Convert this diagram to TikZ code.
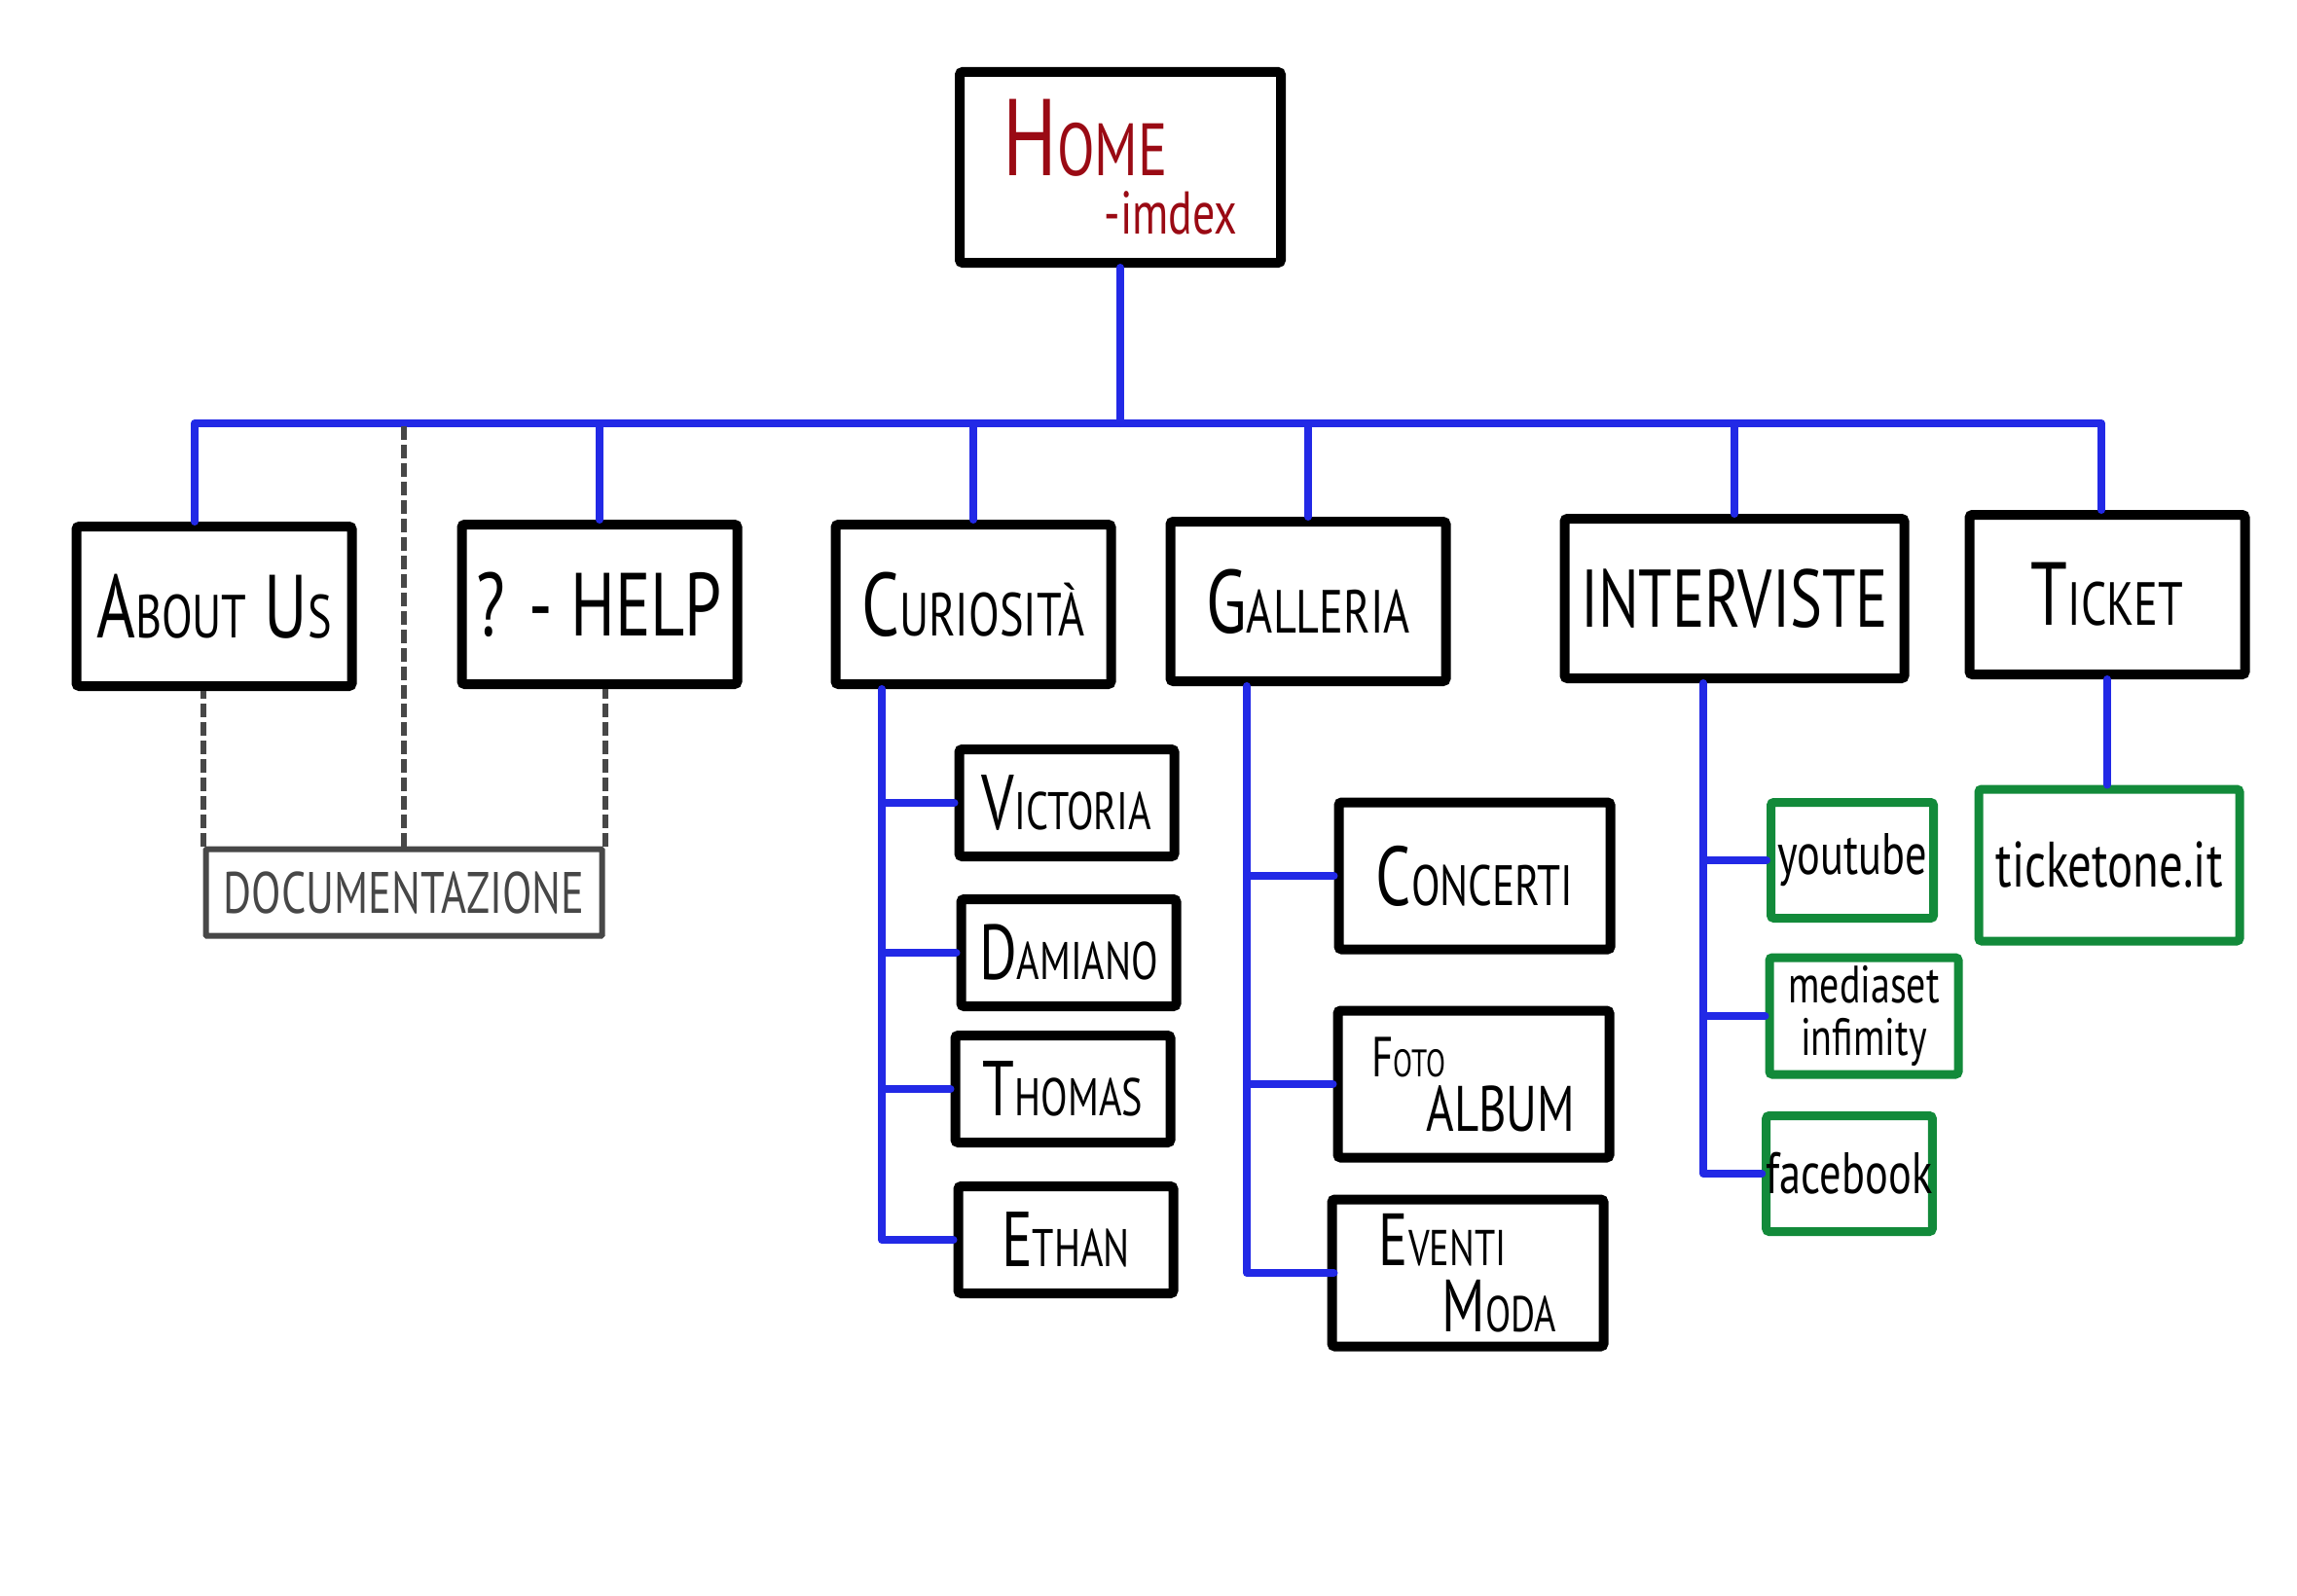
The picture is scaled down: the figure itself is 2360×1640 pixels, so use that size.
\documentclass[tikz,border=0pt]{standalone}
\usepackage{fontspec}
\usepackage{tikz}
\newfontfamily\handfont{PT Sans}[FakeStretch=0.74]
\definecolor{homered}{HTML}{9A0A14}
\definecolor{linkblue}{HTML}{2229E6}
\definecolor{sitegreen}{HTML}{128A3A}
\definecolor{docgray}{HTML}{474747}
\newcommand{\smcap}[2]{#1\scalebox{0.68}{#2}}
\tikzset{
  pagebox/.style={
    draw=black,
    line width=10pt,
    rounded corners=3pt,
    fill=white,
    align=center,
    inner sep=0pt
  },
  homebox/.style={
    pagebox,
    minimum width=330pt,
    minimum height=196pt,
    align=left,
    text=homered,
    font=\handfont\fontsize{112}{100}\selectfont
  },
  sectionbox/.style={
    pagebox,
    minimum width=283pt,
    minimum height=164pt,
    font=\handfont\fontsize{92}{96}\selectfont
  },
  memberbox/.style={
    pagebox,
    minimum width=221pt,
    minimum height=110pt,
    font=\handfont\fontsize{80}{84}\selectfont
  },
  gallerybox/.style={
    pagebox,
    minimum width=279pt,
    minimum height=151pt,
    align=left,
    font=\handfont\fontsize{76}{68}\selectfont
  },
  socialbox/.style={
    pagebox,
    draw=sitegreen,
    line width=9pt,
    minimum width=167pt,
    minimum height=119pt,
    font=\handfont\fontsize{60}{58}\selectfont
  },
  docbox/.style={
    pagebox,
    draw=docgray,
    line width=6pt,
    rounded corners=1pt,
    minimum width=407pt,
    minimum height=89pt,
    text=docgray,
    font=\handfont\fontsize{60}{60}\selectfont
  },
  link/.style={draw=linkblue, line width=8pt, line cap=round, line join=round},
  docline/.style={draw=docgray, line width=6pt, dash pattern=on 14pt off 5pt}
}

\begin{document}
\begin{tikzpicture}[x=1pt, y=-1pt]
  \fill[white] (0,0) rectangle (2360,1640);
  \useasboundingbox (0,0) rectangle (2360,1640);

  % home page
  \node[homebox] (home) at (1151,172) {\smcap{H}{OME}\\[-40pt]\hspace*{104pt}{\fontsize{62}{60}\selectfont -imdex}};

  % sections
  \node[sectionbox] (about) at (220,623) {\smcap{A}{BOUT} \smcap{U}{S}};
  \node[sectionbox] (help) at (616,621) {? - HELP};
  \node[sectionbox] (curio) at (1000,621) {\smcap{C}{URIOSITÀ}};
  \node[sectionbox] (gall) at (1344,618) {\smcap{G}{ALLERIA}};
  \node[sectionbox, minimum width=349pt, font=\handfont\fontsize{84}{84}\selectfont] (interv) at (1782,615) {INTERVISTE};
  \node[sectionbox] (ticket) at (2165,611) {\smcap{T}{ICKET}};

  \node[docbox] (doc) at (415,917) {DOCUMENTAZIONE};

  % curiosita
  \node[memberbox] (victoria) at (1096,825) {\smcap{V}{ICTORIA}};
  \node[memberbox] (damiano) at (1098,979) {\smcap{D}{AMIANO}};
  \node[memberbox] (thomas) at (1092,1119) {\smcap{T}{HOMAS}};
  \node[memberbox] (ethan) at (1095,1274) {\smcap{E}{THAN}};

  % galleria
  \node[gallerybox, align=center, font=\handfont\fontsize{86}{86}\selectfont] (concerti) at (1515,900) {\smcap{C}{ONCERTI}};
  \node[gallerybox, font=\handfont\fontsize{58}{56}\selectfont] (foto) at (1514,1114) {\smcap{F}{OTO}\\\hspace*{56pt}{\fontsize{66}{56}\selectfont ALBUM}};
  \node[gallerybox] (eventi) at (1508,1308) {\smcap{E}{VENTI}\\\hspace*{65pt}\smcap{M}{ODA}};

  % interviste
  \node[socialbox] (youtube) at (1903,884) {youtube};
  \node[socialbox, minimum width=194pt, minimum height=120pt, font=\handfont\fontsize{54}{54}\selectfont] (mediaset) at (1915,1044) {mediaset\\infimity};
  \node[socialbox] (facebook) at (1900,1206) {facebook};

  % ticket
  \node[socialbox, minimum width=268pt, minimum height=156pt, font=\handfont\fontsize{66}{66}\selectfont] (ticketone) at (2167,889) {ticketone.it};

  % links
  \coordinate (bus) at (1151,435);
  \draw[link] (home.south) -- (home.south |- bus);
  \draw[link] ([xshift=-20pt]about.north) |- (bus) -| ([xshift=-6pt]ticket.north);
  \foreach \n in {help,curio,gall,interv}
    \draw[link] (\n.north) -- (\n.north |- bus);

  \draw[docline] (doc.north west) -- (doc.north west |- about.south);
  \draw[docline] (doc.north) -- (doc.north |- bus);
  \draw[docline] (doc.north east) -- (doc.north east |- help.south);

  \coordinate (curiotrunk) at ([xshift=-94pt]curio.south);
  \draw[link] (curiotrunk) |- (ethan.west);
  \foreach \k in {victoria,damiano,thomas}
    \draw[link] (curiotrunk |- \k.west) -- (\k.west);

  \coordinate (galltrunk) at ([xshift=-63pt]gall.south);
  \draw[link] (galltrunk) |- ([xshift=7pt]eventi.west);
  \foreach \k in {concerti,foto}
    \draw[link] (galltrunk |- \k.west) -- (\k.west);

  \coordinate (intervtrunk) at ([xshift=-32pt]interv.south);
  \draw[link] (intervtrunk) |- (facebook.west);
  \foreach \k in {youtube,mediaset}
    \draw[link] (intervtrunk |- \k.west) -- (\k.west);

  \draw[link] (ticket.south) -- (ticket.south |- ticketone.north);
\end{tikzpicture}
\end{document}
